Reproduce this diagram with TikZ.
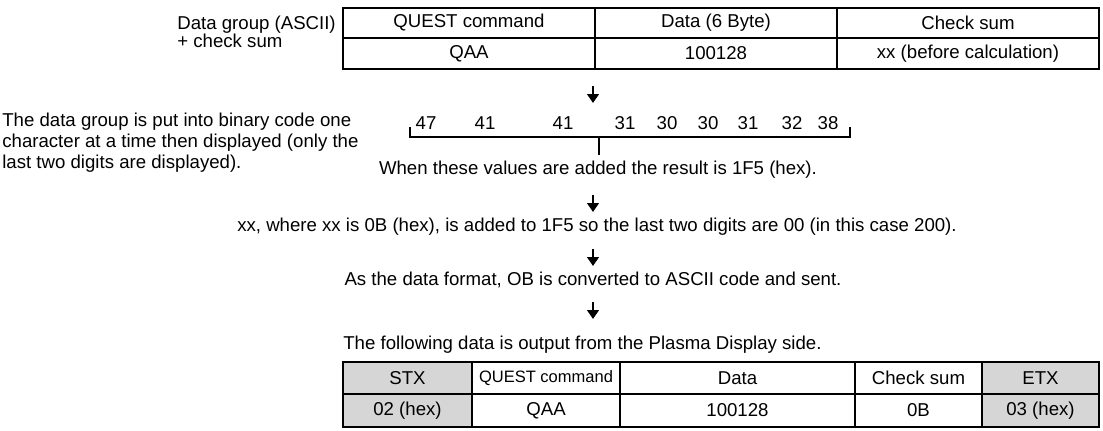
\documentclass[tikz,border=0pt]{standalone}
\usepackage{fontspec}
\setmainfont{Liberation Sans}
\usetikzlibrary{arrows.meta}

\begin{document}
\begin{tikzpicture}[x=0.02cm, y=-0.02cm,
  every node/.style={font=\fontsize{10.6}{12}\selectfont, inner sep=0pt},
  cell/.style={draw, line width=1.6pt, minimum height=0.62cm, align=center},
  greycell/.style={cell, fill=black!16},
  flow/.style={line width=1.2pt, -{Triangle[width=6.5pt,length=5pt]}},
  bracketline/.style={line width=0.6pt}]
\useasboundingbox (0,0) rectangle (1103,430);

% Top table: data group + check sum
\node[anchor=west, align=left] (grouplbl) at (177,32) {Data group (ASCII)\\[-1.5pt]+ check sum};
\node[cell, minimum width=5.04cm, minimum height=0.6cm] (cmdhead) at (469,23) {QUEST command};
\node[cell, minimum width=4.84cm, minimum height=0.6cm] (datahead) at (716,23) {Data (6 Byte)};
\node[cell, minimum width=5.24cm, minimum height=0.6cm] (sumhead) at (968,23) {Check sum};
\node[cell, minimum width=5.04cm] (cmdval) at (469,53.5) {QAA};
\node[cell, minimum width=4.84cm] (dataval) at (716,53.5) {100128};
\node[cell, minimum width=5.24cm] (sumval) at (968,53.5) {xx (before calculation)};

% Step arrows
\coordinate (a1s) at (593,86);
\coordinate (a1e) at (593,103);
\coordinate (a2s) at (593,195);
\coordinate (a2e) at (593,212);
\coordinate (a3s) at (593,249);
\coordinate (a3e) at (593,266);
\coordinate (a4s) at (593,302);
\coordinate (a4e) at (593,319);

% Binary codes
\node[anchor=west, align=left] (binlbl) at (2,143) {The data group is put into binary code one\\character at a time then displayed (only the\\last two digits are displayed).};
\foreach \v/\x [count=\i] in {47/426, 41/485, 41/563, 31/625, 30/667, 30/708, 31/748, 32/792, 38/828}
  \node (num\i) at (\x,123) {\v};
\coordinate (brl) at (410,127);
\coordinate (brr) at (850,127);
\coordinate (brm) at (599,137);
\coordinate (brt) at (599,155);
\draw[bracketline] (brl) -- (brl |- brm) -- (brr |- brm) -- (brr);
\draw[bracketline] (brm) -- (brt);
\node (sumtext) at (598,170) {When these values are added the result is 1F5 (hex).};

% Steps
\node (addtext) at (597,227) {xx, where xx is 0B (hex), is added to 1F5 so the last two digits are 00 (in this case 200).};
\node (sendtext) at (593,280) {As the data format, OB is converted to ASCII code and sent.};
\node[anchor=west] (outtext) at (343,345) {The following data is output from the Plasma Display side.};

\draw[flow] (a1s) -- (a1e);
\draw[flow] (a2s) -- (a2e);
\draw[flow] (a3s) -- (a3e);
\draw[flow] (a4s) -- (a4e);

% Bottom table: output data
\node[greycell, minimum width=2.58cm, minimum height=0.64cm] (stxhead) at (407.5,378) {STX};
\node[cell, minimum width=2.96cm, minimum height=0.64cm, font=\fontsize{9.4}{11}\selectfont] (qhead) at (546,378) {QUEST command};
\node[cell, minimum width=4.70cm, minimum height=0.64cm] (dhead) at (737.5,378) {Data};
\node[cell, minimum width=2.54cm, minimum height=0.64cm] (chead) at (918.5,378) {Check sum};
\node[greycell, minimum width=2.34cm, minimum height=0.64cm] (etxhead) at (1040.5,378) {ETX};
\node[greycell, minimum width=2.58cm, minimum height=0.66cm] (stxval) at (407.5,410.5) {02 (hex)};
\node[cell, minimum width=2.96cm, minimum height=0.66cm] (qval) at (546,410.5) {QAA};
\node[cell, minimum width=4.70cm, minimum height=0.66cm] (dval) at (737.5,410.5) {100128};
\node[cell, minimum width=2.54cm, minimum height=0.66cm] (cval) at (918.5,410.5) {0B};
\node[greycell, minimum width=2.34cm, minimum height=0.66cm] (etxval) at (1040.5,410.5) {03 (hex)};

\end{tikzpicture}
\end{document}
